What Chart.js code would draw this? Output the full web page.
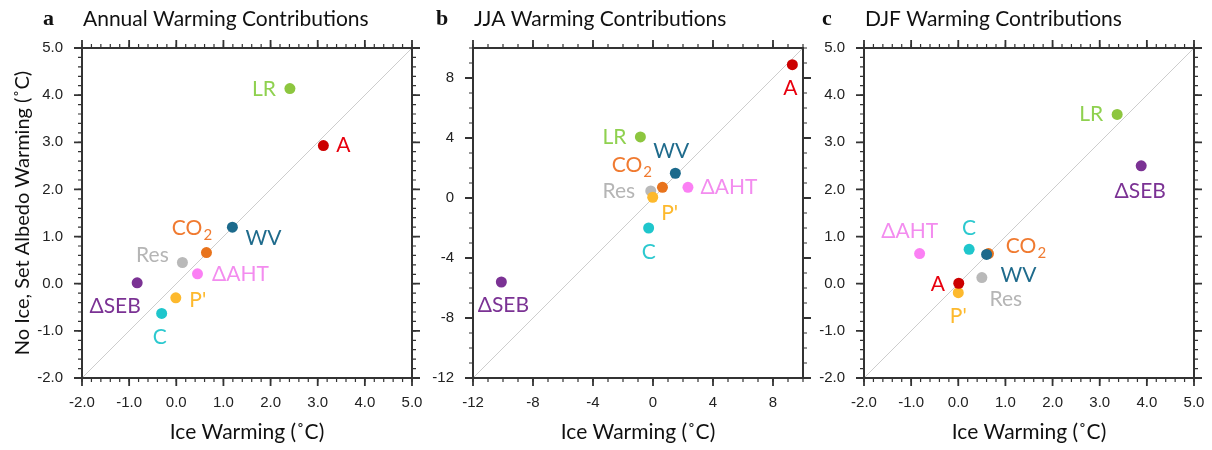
<!DOCTYPE html>
<html>
<head>
<meta charset="utf-8">
<script src="https://cdn.jsdelivr.net/npm/chart.js@4/dist/chart.umd.min.js"></script>
<style>
  body { margin: 0; background: #fff; }
  #wrap { position: relative; width: 1212px; height: 450px; }
  canvas { position: absolute; top: 0; }
</style>
</head>
<body>
<div id="wrap">
  <canvas id="panelA" width="422" height="450" style="left:0px"></canvas>
  <canvas id="panelB" width="390" height="450" style="left:422px"></canvas>
  <canvas id="panelC" width="400" height="450" style="left:812px"></canvas>
</div>
<script>
// components, in drawing order (later ones sit on top)
let components = ['LR', 'ΔSEB', 'ΔAHT', 'C', 'Res', "P'", 'A', 'CO2', 'WV'];
let dotColors   = ['#8dc63f', '#7b3294', '#fb80f4', '#1fc6cc', '#b9b9b9', '#fdb92d', '#cc0000', '#e8731c', '#1c6a8c'];
let labelColors = ['#8fd14f', '#7b3294', '#f38cef', '#2cc9cf', '#b5b5b5', '#fdb92d', '#e8000e', '#f07a30', '#1f6b8c'];

// Annual
let annualX = [2.41, -0.83, 0.45, -0.31, 0.13, -0.01, 3.12, 0.64, 1.19];
let annualY = [4.14, 0.02, 0.21, -0.63, 0.45, -0.30, 2.93, 0.66, 1.20];
// JJA
let jjaX = [-0.84, -10.11, 2.33, -0.29, -0.15, -0.02, 9.29, 0.63, 1.49];
let jjaY = [4.07, -5.60, 0.71, -2.00, 0.47, 0.05, 8.89, 0.71, 1.65];
// DJF
let djfX = [3.37, 3.88, -0.82, 0.23, 0.50, 0.00, 0.01, 0.64, 0.60];
let djfY = [3.59, 2.50, 0.64, 0.73, 0.13, -0.19, 0.01, 0.64, 0.62];

// where each label sits relative to its dot (px)
let annualLabelPos = [[-26, 1], [-22, 23], [43, 0], [-2, 24], [-30, -7], [22, 2], [20, 0], [-15, -24], [31, 11]];
let jjaLabelPos    = [[-26, 0], [2, 23], [41, 0], [0, 24], [-32, 0], [17, 16], [-2, 24], [-31, -22], [-4, -22]];
let djfLabelPos    = [[-26, 0], [-1, 25], [-10, -22], [0, -21], [24, 22], [0, 24], [-21, 1], [37, -7], [32, 21]];

const labelFont = 'Lato';
const tickFont = 'Liberation Sans';

const framePlugin = {
  id: 'frame',
  afterDatasetsDraw(chart, args, opts) {
    const ctx = chart.ctx;
    const meta = chart.getDatasetMeta(1);
    ctx.save();
    ctx.textBaseline = 'middle';
    ctx.textAlign = 'center';
    meta.data.forEach((pt, i) => {
      const [dx, dy] = opts.labelPos[i];
      const cx = pt.x + dx, cy = pt.y + dy;
      ctx.fillStyle = labelColors[i];
      if (components[i] === 'CO2') {
        ctx.font = '21px ' + labelFont;
        const w1 = ctx.measureText('CO').width;
        ctx.font = '15px ' + labelFont;
        const w2 = ctx.measureText('2').width;
        const x0 = cx - (w1 + w2) / 2;
        ctx.textAlign = 'left';
        ctx.font = '21px ' + labelFont;
        ctx.fillText('CO', x0, cy);
        ctx.font = '15px ' + labelFont;
        ctx.fillText('2', x0 + w1 + 1, cy + 7);
        ctx.textAlign = 'center';
      } else {
        ctx.font = '21px ' + labelFont;
        ctx.fillText(components[i], cx, cy);
      }
    });
    ctx.restore();
  },
  afterDraw(chart, args, opts) {
    const {ctx, chartArea: a, scales: {x, y}} = chart;
    ctx.save();
    ctx.strokeStyle = '#333';
    // ticks on all four sides, pointing outward
    const marks = (scale, step, len, lw) => {
      const first = Math.ceil(scale.min / step - 1e-6) * step;
      const n = Math.floor((scale.max - first) / step + 1e-6);
      ctx.lineWidth = lw;
      for (let k = 0; k <= n; k++) {
        const p = scale.getPixelForValue(first + k * step);
        ctx.beginPath();
        if (scale.isHorizontal()) {
          ctx.moveTo(p, a.bottom); ctx.lineTo(p, a.bottom + len);
          ctx.moveTo(p, a.top); ctx.lineTo(p, a.top - len);
        } else {
          ctx.moveTo(a.left, p); ctx.lineTo(a.left - len, p);
          ctx.moveTo(a.right, p); ctx.lineTo(a.right + len, p);
        }
        ctx.stroke();
      }
    };
    marks(x, opts.minor, 4, 1.2);
    marks(y, opts.minor, 4, 1.2);
    marks(x, opts.major, 8, 1.8);
    marks(y, opts.major, 8, 1.8);
    ctx.lineWidth = 2;
    ctx.strokeRect(a.left, a.top, a.right - a.left, a.bottom - a.top);

    // panel letter and title
    ctx.fillStyle = '#111';
    ctx.textBaseline = 'middle';
    ctx.textAlign = 'left';
    ctx.font = 'bold 22px "Liberation Serif"';
    ctx.fillText(opts.letter, a.left - opts.letterGap, 19);
    ctx.font = '21px ' + labelFont;
    ctx.fillText(opts.title, a.left + 1, 19);
    ctx.restore();
  }
};

function makePanel(id, xs, ys, labelPos, cfg) {
  const pts = xs.map((v, i) => ({x: v, y: ys[i]}));
  const tickOpts = {
    stepSize: cfg.major,
    includeBounds: false,
    autoSkip: false,
    maxRotation: 0,
    color: '#222',
    font: {family: tickFont, size: 15},
    callback: v => cfg.decimals ? v.toFixed(1) : String(v)
  };
  return new Chart(document.getElementById(id), {
    type: 'scatter',
    data: {
      datasets: [{
        type: 'line',
        data: [{x: cfg.min, y: cfg.min}, {x: cfg.max, y: cfg.max}],
        borderColor: '#cdcdcd',
        borderWidth: 1,
        pointRadius: 0,
        order: 2
      }, {
        data: pts,
        pointRadius: 5.5,
        pointBorderWidth: 0,
        pointBackgroundColor: dotColors,
        order: 1
      }]
    },
    options: {
      responsive: false,
      animation: false,
      layout: {padding: {left: 0, right: cfg.padRight, top: 48, bottom: 0}},
      plugins: {
        legend: {display: false},
        tooltip: {enabled: false},
        frame: {labelPos: labelPos, major: cfg.major, minor: cfg.minor,
                letter: cfg.letter, title: cfg.title, letterGap: cfg.letterGap}
      },
      scales: {
        x: {
          type: 'linear', min: cfg.min, max: cfg.max,
          grid: {display: false, drawTicks: false},
          border: {display: false},
          ticks: {...tickOpts, padding: 16},
          title: {display: true, text: 'Ice Warming (˚C)', color: '#111',
                  font: {family: labelFont, size: 21}, padding: {top: 0, bottom: 5}},
          afterFit: s => { s.height = 72; s.paddingLeft = 0; s.paddingRight = 0; }
        },
        y: {
          type: 'linear', min: cfg.min, max: cfg.max,
          grid: {display: false, drawTicks: false},
          border: {display: false},
          ticks: {...tickOpts, padding: 19},
          title: {display: cfg.yTitle, text: 'No Ice, Set Albedo Warming (˚C)', color: '#111',
                  font: {family: labelFont, size: 20}, padding: {top: 11, bottom: 0}},
          afterFit: s => { s.width = cfg.yWidth; s.paddingTop = 0; s.paddingBottom = 0; }
        }
      }
    },
    plugins: [framePlugin]
  });
}

makePanel('panelA', annualX, annualY, annualLabelPos, {
  min: -2, max: 5, major: 1, minor: 0.2, decimals: true,
  yWidth: 82, padRight: 10, yTitle: true,
  letter: 'a', title: 'Annual Warming Contributions', letterGap: 39
});
makePanel('panelB', jjaX, jjaY, jjaLabelPos, {
  min: -12, max: 10, major: 4, minor: 1, decimals: false,
  yWidth: 51, padRight: 9, yTitle: false,
  letter: 'b', title: 'JJA Warming Contributions', letterGap: 37
});
makePanel('panelC', djfX, djfY, djfLabelPos, {
  min: -2, max: 5, major: 1, minor: 0.2, decimals: true,
  yWidth: 52, padRight: 18, yTitle: false,
  letter: 'c', title: 'DJF Warming Contributions', letterGap: 42
});
</script>
</body>
</html>
